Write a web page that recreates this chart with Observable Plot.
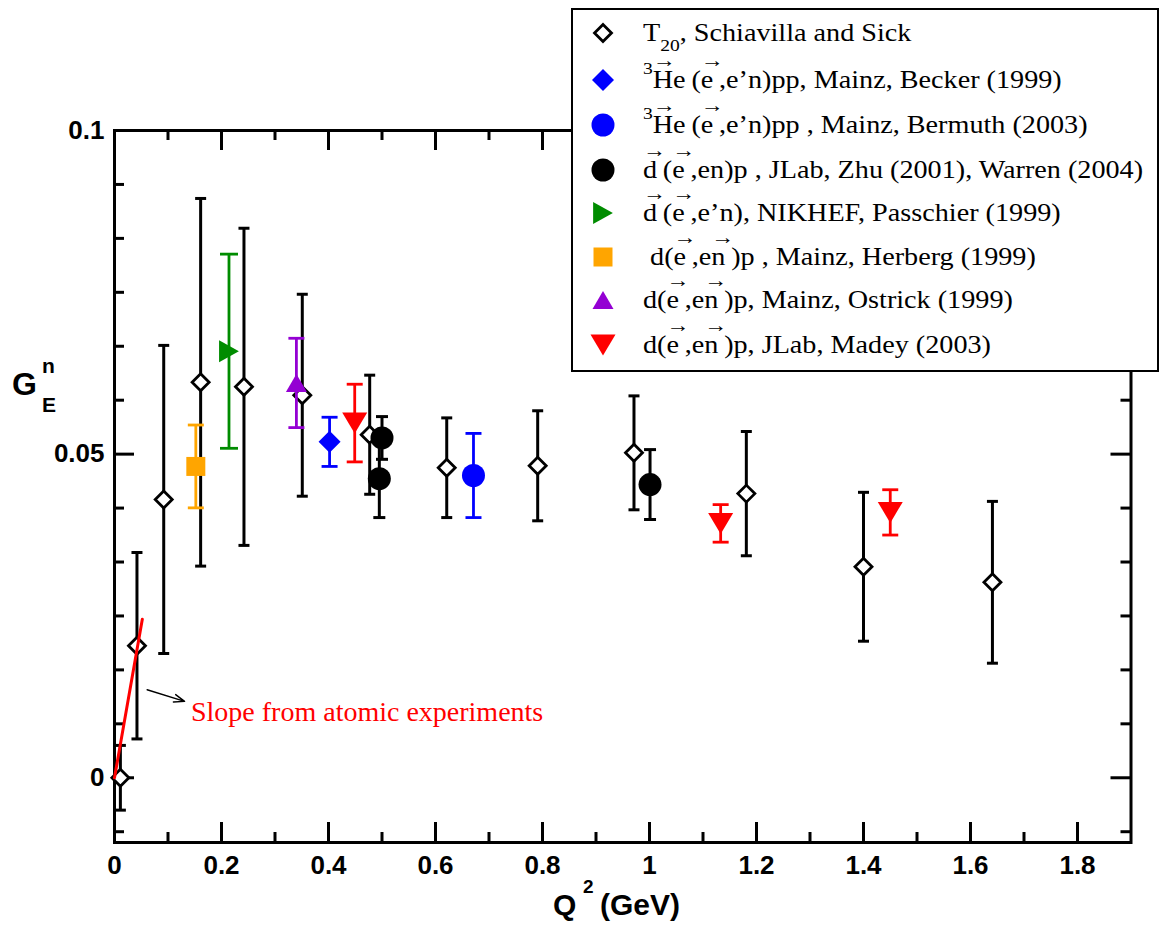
<!DOCTYPE html>
<html><head><meta charset="utf-8">
<script src="https://cdn.jsdelivr.net/npm/d3@7"></script>
<script src="https://cdn.jsdelivr.net/npm/@observablehq/plot@0.6"></script>
<style>
body{margin:0;background:#fff;}
#wrap{position:relative;width:1161px;height:933px;overflow:hidden;}
#legend{position:absolute;left:571px;top:8px;width:584px;height:360px;border:2px solid #000;background:#fff;
 font-family:"Liberation Serif","Times New Roman",serif;font-size:24.5px;color:#000;}
.row{position:absolute;left:0;height:40px;line-height:40px;white-space:nowrap;}
.row svg{position:absolute;left:15px;top:5px;}
.row .t{position:absolute;left:70px;top:0;transform:scaleX(1.15);transform-origin:0 0;}
.v{position:relative;display:inline-block;padding-right:5px;}
.v .a{position:absolute;left:0px;top:-10px;font-size:20px;line-height:20px;}
sup{font-size:17px;line-height:0;vertical-align:0;position:relative;top:-14px;}
sub{font-size:17px;line-height:0;vertical-align:0;position:relative;top:10px;}
</style>
</head><body>
<div id="wrap"></div>
<script>
// ---------------- data ----------------
// T20, Schiavilla and Sick
const t20Q2  = [0.011, 0.042, 0.092, 0.161, 0.242, 0.351, 0.477, 0.621, 0.791, 0.971, 1.181, 1.400, 1.641];
const t20G   = [0.0, 0.0204, 0.0430, 0.0611, 0.0604, 0.0591, 0.0530, 0.0479, 0.0482, 0.0502, 0.0439, 0.0326, 0.0302];
const t20Err = [0.0050, 0.0144, 0.0238, 0.0284, 0.0245, 0.0156, 0.0092, 0.0077, 0.0085, 0.0088, 0.0096, 0.0115, 0.0125];
// 3He(e,e'n)pp, Mainz, Becker (1999)
const beckerQ2 = [0.402], beckerG = [0.0519], beckerErr = [0.0038];
// 3He(e,e'n)pp, Mainz, Bermuth (2003)
const bermuthQ2 = [0.671], bermuthG = [0.0467], bermuthErr = [0.0065];
// d(e,en)p, JLab, Zhu (2001), Warren (2004)
const jlabQ2 = [0.495, 0.500, 1.001], jlabG = [0.0462, 0.0525, 0.0453], jlabErr = [0.0060, 0.0033, 0.0054];
// d(e,e'n), NIKHEF, Passchier (1999)
const nikhefQ2 = [0.214], nikhefG = [0.0659], nikhefErr = [0.0150];
// d(e,en)p, Mainz, Herberg (1999)
const herbergQ2 = [0.152], herbergG = [0.0481], herbergErr = [0.0064];
// d(e,en)p, Mainz, Ostrick (1999)
const ostrickQ2 = [0.340], ostrickG = [0.0610], ostrickErr = [0.0069];
// d(e,en)p, JLab, Madey (2003)
const madeyQ2 = [0.449, 1.133, 1.450], madeyG = [0.0548, 0.0393, 0.0410], madeyErr = [0.0060, 0.0029, 0.0035];
// slope from atomic experiments
const slopeQ2 = [0.0, 0.052], slopeG = [0.0, 0.0245];
const noteArrowQ2 = [0.061, 0.131], noteArrowG = [0.0136, 0.0118];
const noteQ2 = [0.143], noteG = [0.0101], noteText = ["Slope from atomic experiments"];
// axis ticks
const xTickLabels = [0, 0.2, 0.4, 0.6, 0.8, 1, 1.2, 1.4, 1.6, 1.8];
const xMinorTicks = [0.1, 0.3, 0.5, 0.7, 0.9, 1.1, 1.3, 1.5, 1.7];
const yTickLabels = [0, 0.05, 0.1];
const yMinorTicks = [-0.05/6, 0.05/6, 0.1/6, 0.15/6, 0.2/6, 0.25/6, 0.35/6, 0.4/6, 0.45/6, 0.5/6, 0.55/6];
const legendLabels = [
  "T<sub>20</sub>, Schiavilla and Sick",
  "<sup>3</sup>[He]([e],e’n)pp, Mainz, Becker (1999)",
  "<sup>3</sup>[He]([e],e’n)pp , Mainz, Bermuth (2003)",
  "[d]([e],en)p , JLab, Zhu (2001), Warren (2004)",
  "[d]([e],e’n), NIKHEF, Passchier (1999)",
  "&nbsp;d([e],e[n])p , Mainz, Herberg (1999)",
  "d([e],e[n])p, Mainz, Ostrick (1999)",
  "d([e],e[n])p, JLab, Madey (2003)"
];

// ---------------- symbols ----------------
const R = s => Math.sqrt(s / Math.PI);
const symDiamond = {draw(c, s){const r=R(s); c.moveTo(0,-r); c.lineTo(r,0); c.lineTo(0,r); c.lineTo(-r,0); c.closePath();}};
const symTriUp = {draw(c, s){const r=R(s), h=r*0.86; c.moveTo(0,-h); c.lineTo(r,h); c.lineTo(-r,h); c.closePath();}};
const symTriDown = {draw(c, s){const r=R(s), h=r*0.84; c.moveTo(-r,-h); c.lineTo(r,-h); c.lineTo(0,h); c.closePath();}};
const symTriRight = {draw(c, s){const r=R(s), w=r*0.9; c.moveTo(-w,-r); c.lineTo(w,0); c.lineTo(-w,r); c.closePath();}};
const symSquare = {draw(c, s){const r=R(s); c.rect(-r,-r,2*r,2*r);}};
const symCircle = {draw(c, s){const r=R(s); c.moveTo(r,0); c.arc(0,0,r,0,2*Math.PI);}};
const symCap = {draw(c, s){const r=R(s); c.moveTo(-r,0); c.lineTo(r,0);}};

const series = [
  {q: t20Q2, g: t20G, e: t20Err, color: "#000", symbol: symDiamond, r: 8.5, fill: "#fff", sw: 2.8, cap: 5.5, bw: 3},
  {q: herbergQ2, g: herbergG, e: herbergErr, color: "#ffa500", symbol: symSquare, r: 9.5, cap: 8, bw: 2.8},
  {q: nikhefQ2, g: nikhefG, e: nikhefErr, color: "#008c00", symbol: symTriRight, r: 11, cap: 9, bw: 2.8},
  {q: ostrickQ2, g: ostrickG, e: ostrickErr, color: "#9400d3", symbol: symTriUp, r: 10.5, cap: 8, bw: 2.8},
  {q: beckerQ2, g: beckerG, e: beckerErr, color: "#0000ff", symbol: symDiamond, r: 11, cap: 8, bw: 2.8},
  {q: madeyQ2, g: madeyG, e: madeyErr, color: "#ff0000", symbol: symTriDown, r: 12.5, cap: 8, bw: 2.8},
  {q: jlabQ2, g: jlabG, e: jlabErr, color: "#000", symbol: symCircle, r: 11.5, cap: 6, bw: 3},
  {q: bermuthQ2, g: bermuthG, e: bermuthErr, color: "#0000ff", symbol: symCircle, r: 11.5, cap: 8, bw: 2.8}
];
const legendOrder = [0, 4, 7, 6, 2, 1, 3, 5];

const width = 1161, height = 933;
const mL = 114, mR = 30.5, mT = 130, mB = 91;
const innerW = width - mL - mR, innerH = height - mT - mB;

const marks = [];
// ticks (inward) on all four sides
marks.push(
  Plot.tickX(xTickLabels.slice(1), {x: d => d, insetTop: innerH - 20, strokeWidth: 3}),
  Plot.tickX(xMinorTicks, {x: d => d, insetTop: innerH - 10, strokeWidth: 3}),
  Plot.tickX(xTickLabels.slice(1), {x: d => d, insetBottom: innerH - 20, strokeWidth: 3}),
  Plot.tickX(xMinorTicks, {x: d => d, insetBottom: innerH - 10, strokeWidth: 3}),
  Plot.tickY(yTickLabels, {y: d => d, insetRight: innerW - 20, strokeWidth: 3}),
  Plot.tickY(yMinorTicks, {y: d => d, insetRight: innerW - 10, strokeWidth: 3}),
  Plot.tickY(yTickLabels, {y: d => d, insetLeft: innerW - 20, strokeWidth: 3}),
  Plot.tickY(yMinorTicks, {y: d => d, insetLeft: innerW - 10, strokeWidth: 3}),
  Plot.frame({strokeWidth: 3}),
  Plot.axisX(xTickLabels, {tickSize: 0, tickPadding: 13, fontSize: 26, fontWeight: "bold", tickFormat: d => String(d), label: null}),
  Plot.axisY(yTickLabels, {tickSize: 0, tickPadding: 10, fontSize: 26, fontWeight: "bold", tickFormat: d => String(d), label: null})
);
series.forEach((s, k) => {
  const rows = s.q.map((x, i) => ({x, y: s.g[i], e: s.e[i]}));
  marks.push(
    Plot.ruleX(rows, {x: "x", y1: d => d.y - d.e, y2: d => d.y + d.e, stroke: s.color, strokeWidth: s.bw}),
    Plot.dot(rows, {x: "x", y: d => d.y + d.e, symbol: symCap, r: s.cap, stroke: s.color, strokeWidth: s.bw, fill: "none"}),
    Plot.dot(rows, {x: "x", y: d => d.y - d.e, symbol: symCap, r: s.cap, stroke: s.color, strokeWidth: s.bw, fill: "none"}),
    Plot.dot(rows, {x: "x", y: "y", symbol: s.symbol, r: s.r, fill: s.fill || s.color,
      stroke: s.fill ? s.color : "none", strokeWidth: s.sw || 0})
  );
  if (k === 0) {
    marks.push(Plot.line(slopeQ2.map((x, i) => ({x, y: slopeG[i]})), {x: "x", y: "y", stroke: "#ff0000", strokeWidth: 3}));
  }
});
marks.push(
  Plot.arrow([{x1: noteArrowQ2[0], y1: noteArrowG[0], x2: noteArrowQ2[1], y2: noteArrowG[1]}],
    {x1: "x1", y1: "y1", x2: "x2", y2: "y2", bend: 0, headLength: 12, headAngle: 40, strokeWidth: 1.4, stroke: "#000"}),
  Plot.text(noteQ2.map((x, i) => ({x, y: noteG[i], t: noteText[i]})),
    {x: "x", y: "y", text: "t", textAnchor: "start", fill: "#ff0000", fontSize: 28,
     fontFamily: "Liberation Serif, Times New Roman, serif", fontWeight: "normal"})
);

const chart = Plot.plot({
  width, height, marginLeft: mL, marginRight: mR, marginTop: mT, marginBottom: mB,
  x: {domain: [0, 1.9]},
  y: {domain: [-0.01, 0.1]},
  style: {fontFamily: "Liberation Sans, Arial, sans-serif", fontWeight: "bold", color: "#000", background: "#fff"},
  marks
});
document.getElementById("wrap").appendChild(chart);

// axis titles
const svg = d3.select(chart);
const yl = svg.append("text").attr("font-family", "Liberation Sans, Arial, sans-serif").attr("font-weight", "bold")
  .attr("fill", "#000").attr("text-anchor", "start");
yl.append("tspan").attr("x", 12).attr("y", 395).attr("font-size", 32).text("G");
yl.append("tspan").attr("x", 42).attr("y", 373).attr("font-size", 21).text("n");
yl.append("tspan").attr("x", 42).attr("y", 412).attr("font-size", 21).text("E");
const xl = svg.append("text").attr("font-family", "Liberation Sans, Arial, sans-serif").attr("font-weight", "bold")
  .attr("fill", "#000").attr("text-anchor", "start");
xl.append("tspan").attr("x", 553).attr("y", 915).attr("font-size", 30).text("Q");
xl.append("tspan").attr("x", 583).attr("y", 893).attr("font-size", 19).text("2");
xl.append("tspan").attr("x", 600).attr("y", 915).attr("font-size", 30).text("(GeV)");

// legend
const legend = document.createElement("div");
legend.id = "legend";
const rowTops = [3, 50, 95, 140, 183, 227, 270, 315];
legendOrder.forEach((si, j) => {
  const s = series[si];
  const row = document.createElement("div");
  row.className = "row";
  row.style.top = rowTops[j] + "px";
  const size = s.r * s.r * Math.PI;
  const p = d3.symbol(s.symbol, size)();
  row.innerHTML = `<svg width="30" height="30" viewBox="-15 -15 30 30"><path d="${p}" fill="${s.fill || s.color}" stroke="${s.fill ? s.color : "none"}" stroke-width="${s.sw || 0}"/></svg>` +
    `<span class="t">${legendLabels[j].replace(/\[(.+?)\]/g, '<span class="v">$1<span class="a">→</span></span>')}</span>`;
  legend.appendChild(row);
});
document.getElementById("wrap").appendChild(legend);
</script>
</body></html>
